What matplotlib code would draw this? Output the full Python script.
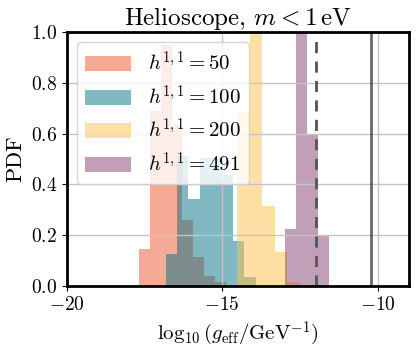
import numpy as np
import matplotlib
matplotlib.use("Agg")
import matplotlib.pyplot as plt

plt.rcParams['font.family'] = 'cmr10'
plt.rcParams['mathtext.fontset'] = 'cm'
plt.rcParams['axes.formatter.use_mathtext'] = True

# histogram bins (left edge, bin width) and densities
labels = [r'$h^{1,1} = 50$', r'$h^{1,1} = 100$', r'$h^{1,1} = 200$', r'$h^{1,1} = 491$']
start_50, width_50 = -17.66, 0.346
pdf_50 = [0.146, 0.69, 0.95, 0.634, 0.258, 0.115, 0.04, 0.015]
start_100, width_100 = -16.81, 0.3606
pdf_100 = [0.125, 0.513, 0.342, 0.505, 0.505, 0.438, 0.178, 0.037]
start_200, width_200 = -14.527, 0.406
pdf_200 = [0.687, 1.31, 0.315, 0.135, 0.015]
start_491, width_491 = -12.97, 0.351
pdf_491 = [0.225, 1.83, 0.6, 0.195]

bound_dashed = -12.0
bound_solid = -10.23

colors = ['#ef552d', '#057387', '#ffc34b', '#874173']

fig = plt.figure(figsize=(4.16, 3.52), dpi=100)
ax = fig.add_axes([0.160, 0.1875, 0.823, 0.7215])

hists = [(start_50, width_50, pdf_50), (start_100, width_100, pdf_100),
         (start_200, width_200, pdf_200), (start_491, width_491, pdf_491)]
for (s, w, h), c, lab in zip(hists, colors, labels):
    edges = s + w * np.arange(len(h) + 1)
    ax.hist(edges[:-1], bins=edges, weights=h, color=c, alpha=0.5, label=lab)

ax.axvline(bound_dashed, color='#555555', ls='--', lw=2, dashes=(4, 3))
ax.axvline(bound_solid, color='#444444', lw=2, alpha=0.8)

ax.set_xlim(-20, -9)
ax.set_ylim(0, 1)
ax.set_xticks([-20, -15, -10])
ax.set_yticks([0, 0.2, 0.4, 0.6, 0.8, 1.0])
ax.grid(True, color='#c4c4c4', lw=1)
for sp in ax.spines.values():
    sp.set_linewidth(2)
ax.tick_params(labelsize=14)
ax.set_title(r'Helioscope, $m < 1\,\mathrm{eV}$', fontsize=18, pad=3)
ax.set_xlabel(r'$\log_{10}(g_{\rm eff}/{\rm GeV}^{-1})$', fontsize=15)
ax.set_ylabel('PDF', fontsize=16)
ax.legend(loc='upper left', fontsize=15, handlelength=2.2, labelspacing=0.45)

fig.savefig('out.png', dpi=100)
